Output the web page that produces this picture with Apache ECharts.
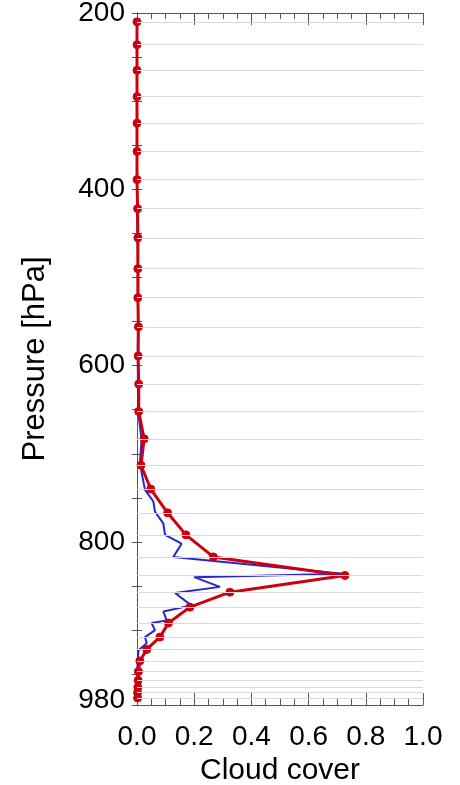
<!DOCTYPE html>
<html><head><meta charset="utf-8">
<script src="https://cdn.jsdelivr.net/npm/echarts@6/dist/echarts.min.js"></script>
<style>html,body{margin:0;padding:0;background:#fff}#c{width:460px;height:785px}</style>
</head><body><div id="c"></div>
<script>
// Model pressure levels (hPa) of the red profile
const pressureLevels = [210, 236, 265, 295, 325, 357, 389, 422, 455, 490, 523, 556, 589, 621, 652, 683, 713, 740, 767, 792, 817, 838, 857, 874, 892, 908, 922, 935, 947, 957, 965, 971, 977];
// Red profile cloud cover
const redCover = [0.0, 0.0, 0.0, 0.0, 0.0, 0.0, 0.0, 0.002, 0.003, 0.003, 0.003, 0.005, 0.004, 0.006, 0.006, 0.025, 0.014, 0.048, 0.107, 0.171, 0.267, 0.727, 0.325, 0.185, 0.11, 0.08, 0.034, 0.01, 0.005, 0.004, 0.003, 0.002, 0.002];
// Blue profile
const bluePressure = [210, 236, 265, 295, 325, 357, 389, 422, 455, 490, 523, 556, 589, 621, 652, 684, 711, 741, 754, 766, 779, 792, 802, 817, 821, 836, 840, 851, 858, 872, 879, 889, 892, 900, 908, 915, 923, 935, 947, 957, 965, 971, 977];
const blueCover = [0, 0, 0, 0, 0, 0, 0, 0, 0.002, 0.004, 0.004, 0.003, 0.003, 0.003, 0.004, 0.016, 0.01, 0.028, 0.057, 0.063, 0.092, 0.098, 0.156, 0.127, 0.25, 0.72, 0.2, 0.29, 0.133, 0.19, 0.092, 0.104, 0.051, 0.063, 0.028, 0.034, 0.005, 0.002, 0.001, 0, 0, 0, 0];
// Tick labels
const yTickLabels = [200, 400, 600, 800, 980];
const xTickValues = [0, 0.2, 0.4, 0.6, 0.8, 1.0];

const FONT = "'Liberation Sans', Arial, Helvetica, sans-serif";
const AXC = '#555';
const RED = '#cc0010';
const BLUE = '#2828c8';

function xAxisCfg(pos, showLabel) {
  return {
    type: 'value', position: pos, min: 0, max: 1, interval: 0.2,
    name: showLabel ? 'Cloud cover' : '', nameLocation: 'middle', nameGap: 50,
    nameTextStyle: {fontFamily: FONT, fontSize: 30, color: '#000'},
    axisLine: {show: true, lineStyle: {color: AXC, width: 1}},
    axisTick: {show: true, inside: true, length: 12, lineStyle: {color: AXC}},
    minorTick: {show: true, splitNumber: 4, length: 6, lineStyle: {color: AXC}},
    axisLabel: {show: showLabel, fontFamily: FONT, fontSize: 28, color: '#000', margin: 18,
      customValues: xTickValues, formatter: v => v.toFixed(1)},
    splitLine: {show: false}
  };
}
function yAxisCfg(pos, showLabel) {
  return {
    type: 'value', position: pos, inverse: true, min: 200, max: 985, interval: 50,
    name: showLabel ? 'Pressure [hPa]' : '', nameLocation: 'middle', nameGap: 86, nameRotate: 90,
    nameTextStyle: {fontFamily: FONT, fontSize: 31, color: '#000'},
    axisLine: {show: true, lineStyle: {color: AXC, width: 1}},
    axisTick: {show: true, inside: true, length: 5, lineStyle: {color: AXC}},
    axisLabel: {show: showLabel, fontFamily: FONT, fontSize: 28, color: '#000', margin: 12,
      customValues: yTickLabels},
    splitLine: {show: false}
  };
}

const chart = echarts.init(document.getElementById('c'), null, {renderer: 'canvas'});
chart.setOption({
  animation: false,
  backgroundColor: '#fff',
  grid: {left: 137, right: 37, top: 13, bottom: 80, containLabel: false, outerBoundsMode: 'none'},
  xAxis: [xAxisCfg('bottom', true), xAxisCfg('top', false)],
  yAxis: [yAxisCfg('left', true), yAxisCfg('right', false)],
  series: [
    {
      type: 'line', z: 1, data: [], silent: true,
      markLine: {
        silent: true, symbol: ['none', 'none'], label: {show: false},
        lineStyle: {color: '#d9d9d9', width: 1, type: 'solid'},
        data: pressureLevels.map(p => ({yAxis: p}))
      }
    },
    {
      type: 'line', z: 2, showSymbol: false,
      data: bluePressure.map((p, i) => [blueCover[i], p]),
      lineStyle: {color: BLUE, width: 2},
      itemStyle: {color: BLUE}
    },
    {
      type: 'line', z: 3, symbol: 'circle', symbolSize: 8,
      data: pressureLevels.map((p, i) => [redCover[i], p]),
      lineStyle: {color: RED, width: 3},
      itemStyle: {color: RED, borderColor: RED, borderWidth: 1}
    }
  ]
});
</script>
</body></html>
